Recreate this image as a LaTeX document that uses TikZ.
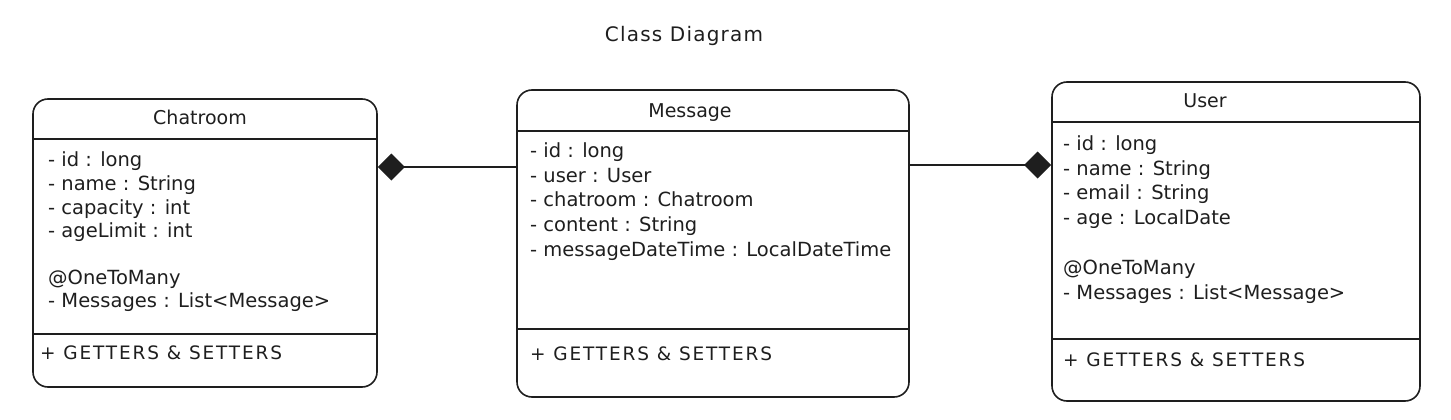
\documentclass[tikz,border=0pt]{standalone}
\usepackage{fontspec}
\setmainfont{DejaVu Sans}
\usetikzlibrary{arrows.meta}
\definecolor{ink}{HTML}{1E1E1E}
\tikzset{
  classbox/.style={draw=ink, line width=1.6pt, rounded corners=15pt, inner sep=0pt},
  divider/.style={draw=ink, line width=1.6pt},
  attr/.style={anchor=west, inner sep=0pt, font=\fontsize{19.5}{22}\selectfont, text=ink, text height=13pt, text depth=4pt},
  cname/.style={anchor=center, inner sep=0pt, font=\fontsize{19}{22}\selectfont, text=ink, text height=13pt, text depth=4pt},
  caps/.style={attr, font=\fontsize{18.5}{22}\selectfont\addfontfeature{LetterSpace=10}},
  composition/.style={draw=ink, line width=1.6pt, -{Diamond[length=27pt, width=27pt, fill=ink]}},
}
\begin{document}
\begin{tikzpicture}[x=1pt, y=-1pt]
\useasboundingbox (0,0) rectangle (1451,420);

% title
\node[cname, font=\fontsize{20}{24}\selectfont\addfontfeature{LetterSpace=6}] (title) at (684,37) {Class Diagram};

% Chatroom
\node[classbox, minimum width=344pt, minimum height=288pt] (chat) at (205,243) {};
\draw[divider] (chat.west |- 0,139) -- (chat.east |- 0,139);
\draw[divider] (chat.west |- 0,334) -- (chat.east |- 0,334);
\node[cname] (chatname) at (200,120) {Chatroom};
\node[attr] (c1) at (48,162) {- id : long};
\node[attr] (c2) at (48,186) {- name : String};
\node[attr] (c3) at (48,210) {- capacity : int};
\node[attr] (c4) at (48,233) {- ageLimit : int};
\node[attr] (c5) at (48,280) {@OneToMany};
\node[attr] (c6) at (48,303) {- Messages : List<Message>};
\node[caps] (c7) at (40,355) {+ GETTERS \& SETTERS};

% Message
\node[classbox, minimum width=392pt, minimum height=307pt] (msg) at (713,243.5) {};
\draw[divider] (msg.west |- 0,131) -- (msg.east |- 0,131);
\draw[divider] (msg.west |- 0,329) -- (msg.east |- 0,329);
\node[cname] (msgname) at (690,113) {Message};
\node[attr] (m1) at (530,153) {- id : long};
\node[attr] (m2) at (530,178) {- user : User};
\node[attr] (m3) at (530,202) {- chatroom : Chatroom};
\node[attr] (m4) at (530,227) {- content : String};
\node[attr] (m5) at (530,252) {- messageDateTime : LocalDateTime};
\node[caps] (m6) at (530,356) {+ GETTERS \& SETTERS};

% User
\node[classbox, minimum width=368pt, minimum height=319pt] (user) at (1236,241.5) {};
\draw[divider] (user.west |- 0,122) -- (user.east |- 0,122);
\draw[divider] (user.west |- 0,339) -- (user.east |- 0,339);
\node[cname] (username) at (1205,103) {User};
\node[attr] (u1) at (1063,146) {- id : long};
\node[attr] (u2) at (1063,171) {- name : String};
\node[attr] (u3) at (1063,195) {- email : String};
\node[attr] (u4) at (1063,220) {- age : LocalDate};
\node[attr] (u5) at (1063,270) {@OneToMany};
\node[attr] (u6) at (1063,295) {- Messages : List<Message>};
\node[caps] (u7) at (1063,362) {+ GETTERS \& SETTERS};

% connectors
\draw[composition] (msg.west |- 0,167) -- (chat.east |- 0,167);
\draw[composition] (msg.east |- 0,165) -- (user.west |- 0,165);
\end{tikzpicture}
\end{document}
